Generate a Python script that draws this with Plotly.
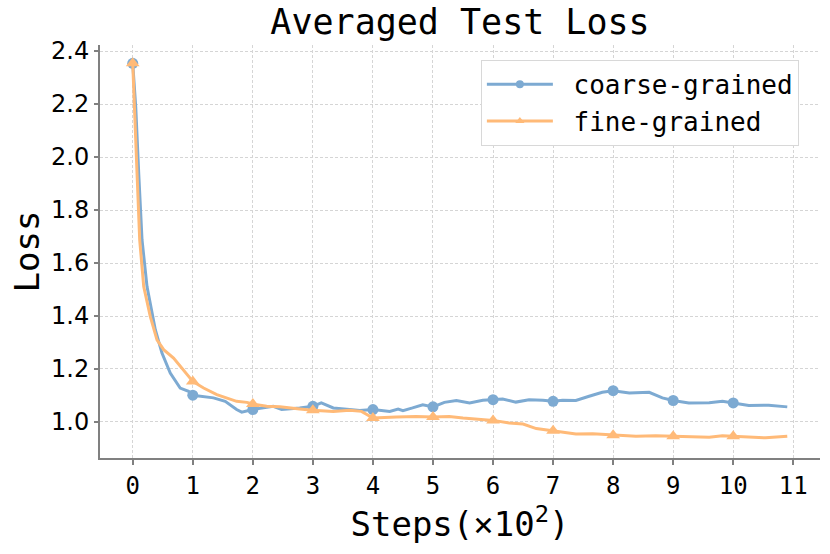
import plotly.graph_objects as go

# ---- data ----
coarse_x = [0, 0.05, 0.1, 0.155, 0.238, 0.376, 0.487, 0.625, 0.79, 0.93, 1.0, 1.345, 1.54,
            1.73, 1.815, 2.0, 2.34, 2.48, 2.78, 3.0, 3.14, 3.34, 3.61, 3.78, 4.0, 4.17,
            4.28, 4.42, 4.50, 4.66, 4.83, 5.0, 5.19, 5.39, 5.61, 5.83, 6.0, 6.16, 6.38,
            6.60, 6.83, 7.0, 7.16, 7.38, 7.60, 7.82, 8.0, 8.27, 8.60, 8.82, 9.0, 9.26,
            9.60, 9.82, 10.0, 10.26, 10.59, 10.9]
coarse_y = [2.354, 2.19, 1.938, 1.687, 1.511, 1.348, 1.260, 1.185, 1.128, 1.116, 1.101,
            1.091, 1.078, 1.047, 1.037, 1.047, 1.059, 1.047, 1.053, 1.059, 1.072, 1.053,
            1.047, 1.043, 1.047, 1.043, 1.040, 1.049, 1.043, 1.053, 1.065, 1.057, 1.074,
            1.081, 1.072, 1.082, 1.084, 1.087, 1.075, 1.084, 1.082, 1.078, 1.082, 1.081,
            1.097, 1.112, 1.118, 1.109, 1.112, 1.091, 1.081, 1.072, 1.073, 1.078, 1.072,
            1.062, 1.063, 1.057]

fine_x = [0, 0.033, 0.072, 0.116, 0.183, 0.293, 0.404, 0.515, 0.68, 1.0, 1.18, 1.40,
          1.73, 1.90, 2.0, 2.23, 2.45, 2.78, 3.0, 3.34, 3.61, 3.81, 4.0, 4.39, 4.72, 5.0,
          5.27, 5.50, 5.77, 6.0, 6.27, 6.50, 6.72, 7.0, 7.38, 7.66, 8.0, 8.38, 8.71, 9.0,
          9.26, 9.60, 9.82, 10.0, 10.26, 10.54, 10.9]
fine_y = [2.354, 2.19, 1.938, 1.687, 1.511, 1.398, 1.310, 1.273, 1.241, 1.153, 1.128,
          1.103, 1.078, 1.074, 1.068, 1.059, 1.057, 1.049, 1.044, 1.040, 1.044, 1.040,
          1.015, 1.019, 1.021, 1.019, 1.021, 1.015, 1.011, 1.006, 0.996, 0.992, 0.975,
          0.967, 0.955, 0.956, 0.950, 0.946, 0.948, 0.946, 0.946, 0.942, 0.948, 0.946,
          0.942, 0.940, 0.946]

x_ticks = list(range(0, 12))
y_ticks = [1.0, 1.2, 1.4, 1.6, 1.8, 2.0, 2.2, 2.4]

BLUE = "#7DAAD2"
ORANGE = "#FFBA78"
MONO = "DejaVu Sans Mono"
SANS = "DejaVu Sans"
NB = "\u00a0"


def at_integers(xs, ys):
    px, py = [], []
    for a, b in zip(xs, ys):
        if abs(a - round(a)) < 1e-9:
            px.append(a)
            py.append(b)
    return px, py


fig = go.Figure()

series = [
    ("coarse-grained", coarse_x, coarse_y, BLUE, "circle", 11),
    ("fine-grained", fine_x, fine_y, ORANGE, "triangle-up", 12),
]
for name, xs, ys, col, sym, ms in series:
    fig.add_trace(go.Scatter(x=xs, y=ys, mode="lines", line=dict(color=col, width=3),
                             showlegend=False, hoverinfo="skip"))
    mx, my = at_integers(xs, ys)
    fig.add_trace(go.Scatter(x=mx, y=my, mode="markers",
                             marker=dict(color=col, symbol=sym, size=ms),
                             showlegend=False))
    fig.add_trace(go.Scatter(x=[None], y=[None], mode="lines+markers", name=NB + name,
                             line=dict(color=col, width=3),
                             marker=dict(color=col, symbol=sym, size=8)))

W, H = 830, 554
grid = dict(showgrid=True, gridcolor="#d5d5d5", gridwidth=1, griddash="3px,2px")
fig.update_layout(
    width=W, height=H,
    margin=dict(l=100, r=10, t=45, b=96),
    paper_bgcolor="white", plot_bgcolor="white",
    title=dict(text="Averaged Test Loss", x=460 / W, xanchor="center",
               y=1 - 22 / H, yanchor="middle",
               font=dict(family=MONO, size=35, color="black")),
    legend=dict(x=0.529, y=0.964, xanchor="left", yanchor="top",
                bgcolor="white", bordercolor="#d8d8d8", borderwidth=1,
                font=dict(family=MONO, size=26, color="black"),
                itemwidth=66, tracegroupgap=0),
    xaxis=dict(range=[-0.545, 11.445], tickvals=x_ticks,
               ticktext=[str(t) for t in x_ticks],
               tickfont=dict(family=MONO, size=24, color="black"),
               ticks="outside", ticklen=5, tickcolor="#808080", tickwidth=1.5,
               showline=True, linecolor="#808080", linewidth=2, zeroline=False,
               automargin=False,
               title=dict(text="Steps(×10<sup>2</sup>)", standoff=4,
                          font=dict(family=MONO, size=34, color="black")),
               **grid),
    yaxis=dict(range=[0.864, 2.423], tickvals=y_ticks,
               ticktext=[f"{v:.1f}" for v in y_ticks],
               tickfont=dict(family=SANS, size=24, color="black"),
               ticks="outside", ticklen=4, tickcolor="#808080", tickwidth=1.5,
               showline=True, linecolor="#808080", linewidth=2, zeroline=False,
               automargin=False,
               title=dict(text="Loss", standoff=1,
                          font=dict(family=MONO, size=34, color="black")),
               **grid),
)

# remove the default 8px page margin so the 830x554 figure fills the window exactly
fig.write_html("out.html", config={"displayModeBar": False},
               post_script="document.body.style.margin='0';")
